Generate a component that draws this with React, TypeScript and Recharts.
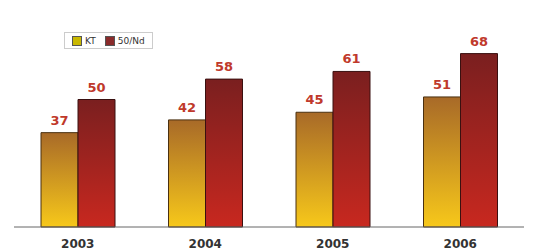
import React from "react";
import { BarChart, Bar, XAxis, YAxis, LabelList } from "recharts";

const years = ["2003", "2004", "2005", "2006"];
const ktValues = [37, 42, 45, 51];
const ndValues = [50, 58, 61, 68];
const seriesNames = ["KT", "50/Nd"];

const data = years.map((y, i) => ({ year: y, kt: ktValues[i], nd: ndValues[i] }));

const LegendBox = () => (
  <div
    style={{
      position: "absolute",
      left: 64,
      top: 32,
      height: 17,
      boxSizing: "border-box",
      border: "1px solid #ccc",
      padding: "0 7px",
      display: "flex",
      alignItems: "center",
      gap: 9,
      fontFamily: "DejaVu Sans, sans-serif",
      fontSize: 9,
      color: "#333",
      background: "#fff",
    }}
  >
    <span style={{ display: "flex", alignItems: "center", gap: 3 }}>
      <span style={{ width: 8, height: 8, background: "#c9b800", border: "1px solid #555", display: "inline-block" }} />
      {seriesNames[0]}
    </span>
    <span style={{ display: "flex", alignItems: "center", gap: 3 }}>
      <span style={{ width: 8, height: 8, background: "#8a2b2b", border: "1px solid #555", display: "inline-block" }} />
      {seriesNames[1]}
    </span>
  </div>
);

const labelStyle = { fill: "#c0392b", fontSize: 13, fontWeight: "bold", fontFamily: "DejaVu Sans, sans-serif" };

export default function App() {
  return (
    <div style={{ position: "absolute", left: 0, top: 0, width: 541, height: 252, background: "#fff" }}>
      <BarChart
        width={541}
        height={252}
        data={data}
        margin={{ top: 23, right: 17, bottom: 0, left: 14 }}
        barGap={0}
        barSize={37}
      >
        <defs>
          <linearGradient id="gKT" x1="0" y1="0" x2="0" y2="1">
            <stop offset="0%" stopColor="#a86a28" />
            <stop offset="100%" stopColor="#f7c81a" />
          </linearGradient>
          <linearGradient id="gND" x1="0" y1="0" x2="0" y2="1">
            <stop offset="0%" stopColor="#7a1f1f" />
            <stop offset="100%" stopColor="#c8281f" />
          </linearGradient>
        </defs>
        <XAxis
          dataKey="year"
          height={25}
          tickLine={false}
          axisLine={{ stroke: "#666" }}
          tick={{ fill: "#333", fontSize: 12, fontFamily: "DejaVu Sans, sans-serif", fontWeight: "bold" }}
          tickMargin={6}
        />
        <YAxis hide domain={[0, 80]} />
        <Bar dataKey="kt" fill="url(#gKT)" stroke="#4a3010" strokeWidth={1} isAnimationActive={false}>
          <LabelList dataKey="kt" position="top" offset={8} style={labelStyle} />
        </Bar>
        <Bar dataKey="nd" fill="url(#gND)" stroke="#3a1010" strokeWidth={1} isAnimationActive={false}>
          <LabelList dataKey="nd" position="top" offset={8} style={labelStyle} />
        </Bar>
      </BarChart>
      <LegendBox />
    </div>
  );
}
